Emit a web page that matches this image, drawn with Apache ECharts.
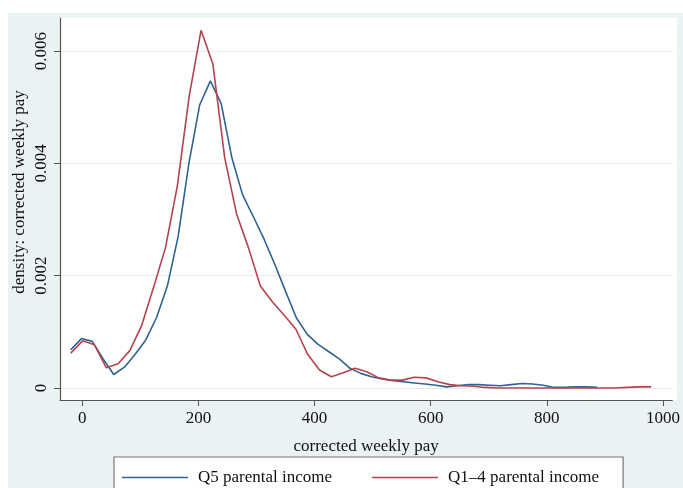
<!DOCTYPE html>
<html>
<head>
<meta charset="utf-8">
<script src="https://cdn.jsdelivr.net/npm/echarts@6/dist/echarts.min.js"></script>
<style>
html,body{margin:0;padding:0;background:#fff;}
#chart{width:683px;height:488px;}
</style>
</head>
<body>
<div id="chart"></div>
<script>
// Q5 parental income (blue)
var blueX = [-20,-1.5,17,35.5,54,72.5,91,109.5,128,146.5,165,183.5,202,220.5,239,257.5,276,294.5,313,331.5,350,368.5,387,405.5,424,442.5,461,479.5,498,516.5,535,553.5,572,590.5,609,627.5,646,664.5,683,701.5,720,738.5,757,775.5,794,812.5,831,849.5,868,886.5];
var blueY = [0.00068,0.00088,0.00083,0.00052,0.00024,0.00037,0.00060,0.00086,0.00126,0.00182,0.0027,0.0040,0.00504,0.00547,0.00507,0.0041,0.00344,0.00305,0.00265,0.0022,0.00172,0.00125,0.00096,0.00078,0.00065,0.00052,0.00035,0.00026,0.00020,0.00016,0.00013,0.00011,0.00009,0.00007,0.00005,0.00002,0.00004,0.00006,0.00006,0.00005,0.00004,0.00006,0.00008,0.00007,0.00005,0.00001,0.00001,0.00002,0.00002,0.00001];
// Q1-4 parental income (red)
var redX = [-20,0.4,20.8,41.2,61.6,82,102.4,122.8,143.2,163.6,184,204.4,224.8,245.2,265.6,286,306.4,326.8,347.2,367.6,388,408.4,428.8,449.2,469.6,490,510.4,530.8,551.2,571.6,592,612.4,632.8,653.2,673.6,694,714.4,734.8,755.2,775.6,796,816.4,836.8,857.2,877.6,898,918.4,938.8,959.2,979.6];
var redY = [0.00062,0.00084,0.00077,0.00036,0.00043,0.00067,0.00112,0.0018,0.0025,0.0036,0.0052,0.00637,0.00577,0.0041,0.0031,0.0025,0.00182,0.00154,0.0013,0.00105,0.0006,0.00032,0.0002,0.00027,0.00035,0.00029,0.00018,0.00014,0.00014,0.00019,0.00018,0.00011,0.00006,0.00004,0.00003,0.00001,0,0,0,0,0,0,0,0,0,0,0,0.00001,0.00002,0.00002];

var xTicks = [0,200,400,600,800,1000];
var xTickLabels = ['0','200','400','600','800','1000'];
var yTicks = [0,0.002,0.004,0.006];
var yTickLabels = ['0','0.002','0.004','0.006'];
var seriesNames = ['Q5 parental income','Q1–4 parental income'];
var xTitle = 'corrected weekly pay';
var yTitle = 'density: corrected weekly pay';

function pairs(xs, ys){ return xs.map(function(x,i){ return [x, ys[i]]; }); }

var FONT = 'Liberation Serif';
var chart = echarts.init(document.getElementById('chart'), null, {renderer:'canvas'});
chart.setOption({
  backgroundColor: '#ffffff',
  animation: false,
  textStyle: {fontFamily: FONT},
  graphic: [
    {type:'rect', z:-10, silent:true, shape:{x:8,y:13,width:680,height:480}, style:{fill:'#eaf2f3'}},
    {type:'rect', z:-9, silent:true, shape:{x:60,y:18,width:617,height:382}, style:{fill:'#ffffff'}},
    {type:'text', x:20, y:192, rotation:Math.PI/2, style:{text:yTitle, fontFamily:FONT, fontSize:17, fill:'#111', align:'center', verticalAlign:'middle'}}
  ],
  grid: {left:60, right:6, top:18, bottom:88, containLabel:false},
  legend: {
    data: seriesNames,
    left: 114, top: 457,
    orient: 'horizontal',
    itemWidth: 66, itemHeight: 14, itemGap: 40,
    padding: [12, 24, 12, 8],
    backgroundColor: '#ffffff',
    borderColor: '#777777', borderWidth: 1.2,
    icon: 'path://M0,0L66,0L66,1.6L0,1.6Z',
    textStyle: {fontFamily: FONT, fontSize: 17, color:'#111', padding:[0,0,0,5]}
  },
  xAxis: {
    type: 'value', min: -38.5, max: 1016,
    name: xTitle, nameLocation: 'middle', nameGap: 38,
    nameTextStyle: {fontFamily: FONT, fontSize: 17, color:'#111'},
    axisLine: {show:true, onZero:false, lineStyle:{color:'#555', width:1.2}},
    axisTick: {show:true, length:6, customValues: xTicks, lineStyle:{color:'#555'}},
    axisLabel: {customValues: xTicks, fontFamily: FONT, fontSize: 17, color:'#111', margin: 10,
      formatter: function(v){ var i = xTicks.indexOf(v); return i>=0 ? xTickLabels[i] : ''; }},
    splitLine: {show:false}
  },
  yAxis: {
    type: 'value', min: -0.000214, max: 0.00659,
    axisLine: {show:true, onZero:false, lineStyle:{color:'#555', width:1.2}},
    axisTick: {show:true, length:6, customValues: yTicks, lineStyle:{color:'#555'}},
    axisLabel: {customValues: yTicks, rotate: 90, fontFamily: FONT, fontSize: 17, color:'#111', margin: 10,
      formatter: function(v){ var i = yTicks.indexOf(v); return i>=0 ? yTickLabels[i] : ''; }},
    splitLine: {show:true, lineStyle:{color:'#e3ecef', width:1.2}}
  },
  series: [
    {name: seriesNames[0], type:'line', data: pairs(blueX, blueY), symbol:'none', showSymbol:false,
     lineStyle:{color:'#2f6293', width:1.6}, itemStyle:{color:'#2f6293'}},
    {name: seriesNames[1], type:'line', data: pairs(redX, redY), symbol:'none', showSymbol:false,
     lineStyle:{color:'#b5434d', width:1.6}, itemStyle:{color:'#b5434d'}}
  ]
});
</script>
</body>
</html>
